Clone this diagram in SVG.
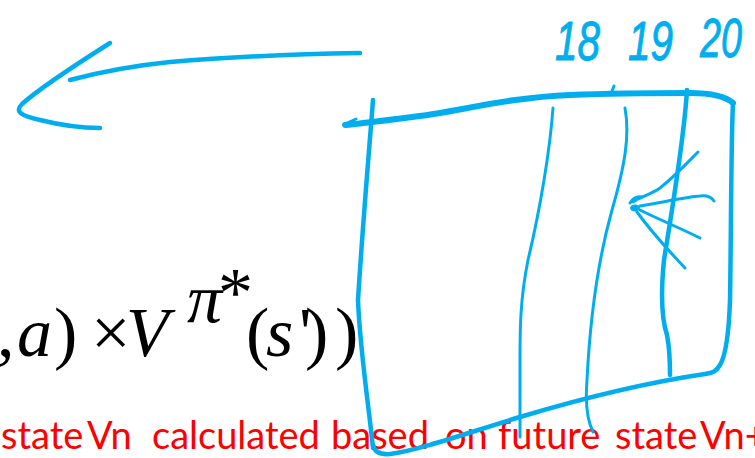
<svg xmlns="http://www.w3.org/2000/svg" width="755" height="458" viewBox="0 0 755 458">
<style>
.ink{fill:none;stroke:#00AEEF;stroke-linecap:round;stroke-linejoin:round}
.thick{stroke-width:6}
.med{stroke-width:4.5}
.thin{stroke-width:3}
.num{font-family:"Liberation Sans",Arial,sans-serif;font-style:italic;font-size:56px;fill:#00AEEF;stroke:#00AEEF;stroke-width:1}
.math{font-family:"Liberation Serif","Times New Roman",serif;font-size:70px;fill:#000}
.it{font-style:italic}
.red{font-family:Lato,"Open Sans",sans-serif;font-size:38px;fill:#FF0000}
</style>
<rect width="755" height="458" fill="#fff"/>
<g id="formula">
<text class="math" y="356"><tspan x="-3">,</tspan><tspan x="17" class="it">a</tspan><tspan x="54">)</tspan><tspan x="91">×</tspan><tspan x="126" class="it">V</tspan><tspan x="246">(</tspan><tspan x="266" class="it">s</tspan><tspan x="299">'</tspan><tspan x="305">)</tspan><tspan x="335">)</tspan></text>
<text class="math it" x="187" y="322" font-size="38">π</text>
<text class="math" x="218" y="316" font-size="40">*</text>
</g>
<g id="caption">
<text class="red" y="449"><tspan x="1">state</tspan><tspan x="87">Vn</tspan><tspan x="152">calculated</tspan><tspan x="331">based</tspan><tspan x="445">on</tspan><tspan x="498">future</tspan><tspan x="615">state</tspan><tspan x="700">Vn+</tspan></text>
</g>
<g id="labels">
<text class="num" x="555" y="60" textLength="45" lengthAdjust="spacingAndGlyphs">18</text>
<text class="num" x="628" y="60" textLength="45" lengthAdjust="spacingAndGlyphs">19</text>
<text class="num" x="700" y="57" textLength="42" lengthAdjust="spacingAndGlyphs">20</text>
</g>
<g id="arrow">
<path class="ink med" d="M360,53 C300,54 230,57 170,62 C130,66 100,72 70,80"/>
<path class="ink med" d="M110,43 C80,62 40,88 22,104 C14,112 22,116 40,120 C60,125 80,128 100,128"/>
</g>
<g id="grid">
<path class="ink thick" d="M345,125 C380,121 410,118 440,113 C480,106 520,97 570,95 C620,93 660,93 690,93 C710,93 725,96 733,103"/>
<path class="ink thin" d="M345,124 L356,119"/>
<path class="ink med" d="M733,103 C731,140 731,250 730,300 C729,330 726,355 720,365 C716,372 712,373 705,374 C650,382 590,396 520,417 C470,432 420,450 390,454 C378,455 374,450 373,445"/>
<path class="ink med" d="M373,100 C370,140 363,220 358,300 C360,350 368,400 373,448"/>
<path class="ink thin" d="M553,108 C550,150 540,210 528,260 C520,300 520,330 520,360 L520,437"/>
<path class="ink thin" d="M625,108 C630,135 625,165 612,210 C598,260 590,320 587,380 C585,405 587,420 593,432"/>
<path class="ink thin" d="M612,91 L614,86"/>
<path class="ink med" d="M687,90 C684,140 672,210 664,260 C660,300 662,320 667,335 C670,350 670,365 670,375"/>
</g>
<g id="fan">
<ellipse cx="635" cy="208" rx="5" ry="3.5" fill="#00AEEF"/>
<path class="ink thin" d="M633,202 C640,197 650,195 660,188 C675,176 688,162 698,152"/>
<path class="ink thin" d="M630,203 C633,198 637,196 642,197"/>
<path class="ink thin" d="M640,206 C660,203 685,197 700,196 C708,195 712,198 714,201"/>
<path class="ink thin" d="M640,210 C660,220 680,228 700,238"/>
<path class="ink thin" d="M637,212 C650,230 668,250 685,268"/>
</g>
</svg>
